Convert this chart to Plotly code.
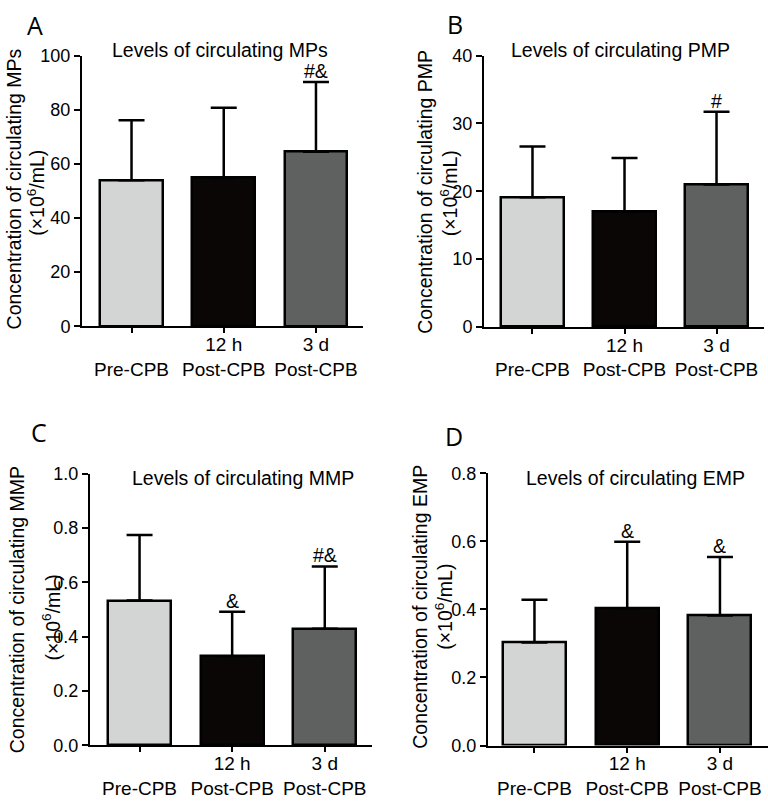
import plotly.graph_objects as go

# ---------------- data ----------------
categories = ["Pre-CPB", "12 h Post-CPB", "3 d Post-CPB"]
tick_text = ["\u00a0<br>Pre-CPB", "12 h<br>Post-CPB", "3 d<br>Post-CPB"]
bar_colors = ["#d3d5d5", "#0a0606", "#5f6161"]

mps_mean = [53.9, 54.9, 64.5]
mps_sd = [22.2, 25.8, 25.7]
mps_marks = ["", "", "#&"]

pmp_mean = [19.1, 17.0, 21.0]
pmp_sd = [7.5, 7.9, 10.7]
pmp_marks = ["", "", "#"]

mmp_mean = [0.533, 0.328, 0.429]
mmp_sd = [0.242, 0.164, 0.230]
mmp_marks = ["", "&", "#&"]

emp_mean = [0.303, 0.403, 0.382]
emp_sd = [0.125, 0.196, 0.172]
emp_marks = ["", "&", "&"]

W, H = 768, 805
FONT = "Liberation Sans, Arial, Helvetica, sans-serif"
TXT = 19.5


def px(x):
    return x / W


def py(y):
    return 1 - y / H


panels = [
    dict(letter="A", mean=mps_mean, sd=mps_sd, marks=mps_marks,
         title="Levels of circulating MPs", ylab="Concentration of circulating MPs",
         xd=(82, 363), yd=(46.7, 324.3), yr=[0, 100], dtick=20, fmt="d",
         xr=[-0.537, 2.51], letter_pos=(35, 15), title_pos=(220, 41),
         yl1=(14, 184), yl2=(36.5, 188)),
    dict(letter="B", mean=pmp_mean, sd=pmp_sd, marks=pmp_marks,
         title="Levels of circulating PMP", ylab="Concentration of circulating PMP",
         xd=(484, 764), yd=(46.7, 325), yr=[0, 40], dtick=10, fmt="d",
         xr=[-0.527, 2.516], letter_pos=(455, 14), title_pos=(620, 41),
         yl1=(425, 186.5), yl2=(449, 188)),
    dict(letter="C", mean=mmp_mean, sd=mmp_sd, marks=mmp_marks,
         title="Levels of circulating MMP", ylab="Concentration of circulating MMP",
         xd=(90, 372), yd=(475.7, 754), yr=[0, 1.0], dtick=0.2, fmt=".1f",
         xr=[-0.535, 2.51], letter_pos=(39, 433), title_pos=(243, 480),
         yl1=(16.5, 615), yl2=(51, 623)),
    dict(letter="D", mean=emp_mean, sd=emp_sd, marks=emp_marks,
         title="Levels of circulating EMP", ylab="Concentration of circulating EMP",
         xd=(488, 768), yd=(475, 754.3), yr=[0, 0.8], dtick=0.2, fmt=".1f",
         xr=[-0.501, 2.518], letter_pos=(454, 437), title_pos=(635, 480),
         yl1=(420, 612), yl2=(444, 612)),
]

fig = go.Figure()
annotations = []
layout = {}
xs = [0, 1, 2]

for i, p in enumerate(panels):
    n = "" if i == 0 else str(i + 1)
    xa, ya = "x" + n, "y" + n
    fig.add_trace(go.Bar(
        x=xs, y=p["mean"], width=0.68, xaxis=xa, yaxis=ya,
        marker=dict(color=bar_colors, line=dict(color="black", width=2.5)),
        error_y=dict(type="data", symmetric=False, array=p["sd"],
                     arrayminus=[0, 0, 0], color="black", thickness=2.5, width=13),
        showlegend=False, hoverinfo="skip",
    ))
    layout["xaxis" + n] = dict(
        domain=[px(p["xd"][0]), px(p["xd"][1])], anchor=ya, range=p["xr"],
        tickvals=xs, ticktext=tick_text, showline=True, linecolor="black",
        linewidth=2, ticks="outside", ticklen=5, tickwidth=2, tickcolor="black",
        showgrid=False, zeroline=False, fixedrange=True, ticklabelstandoff=-5,
        tickfont=dict(family=FONT, size=19, color="black"),
    )
    layout["yaxis" + n] = dict(
        domain=[py(p["yd"][1]), py(p["yd"][0])], anchor=xa, range=p["yr"],
        dtick=p["dtick"], tick0=0, tickformat=p["fmt"], showline=True,
        linecolor="black", linewidth=2, ticks="outside", ticklen=6, tickwidth=2,
        tickcolor="black", showgrid=False, zeroline=False, fixedrange=True,
        tickfont=dict(family=FONT, size=18, color="black"),
    )
    annotations.append(dict(text=p["letter"], xref="paper", yref="paper",
                            x=px(p["letter_pos"][0]), y=py(p["letter_pos"][1]),
                            xanchor="center", yanchor="middle", showarrow=False,
                            font=dict(family="Open Sans, sans-serif", size=25, color="black")))
    annotations.append(dict(text=p["title"], xref="paper", yref="paper",
                            x=px(p["title_pos"][0]), y=py(p["title_pos"][1]),
                            xanchor="center", yanchor="middle", showarrow=False,
                            font=dict(family=FONT, size=TXT, color="black")))
    annotations.append(dict(text=p["ylab"], xref="paper", yref="paper",
                            x=px(p["yl1"][0]), y=py(p["yl1"][1]), textangle=-90,
                            xanchor="center", yanchor="middle", showarrow=False,
                            font=dict(family=FONT, size=TXT, color="black")))
    annotations.append(dict(text="(×10<sup>6</sup>/mL)", xref="paper", yref="paper",
                            x=px(p["yl2"][0]), y=py(p["yl2"][1]), textangle=-90,
                            xanchor="center", yanchor="middle", showarrow=False,
                            font=dict(family=FONT, size=TXT, color="black")))
    for j in range(3):
        if p["marks"][j]:
            annotations.append(dict(text=p["marks"][j], xref=xa, yref=ya,
                                    x=xs[j], y=p["mean"][j] + p["sd"][j],
                                    xanchor="center", yanchor="middle", yshift=11,
                                    showarrow=False,
                                    font=dict(family=FONT, size=TXT, color="black")))

fig.update_layout(
    width=W, height=H, margin=dict(l=0, r=0, t=0, b=0),
    paper_bgcolor="white", plot_bgcolor="white",
    annotations=annotations, bargap=0, **layout,
)

fig.write_html("out.html", config={"displayModeBar": False},
               post_script="document.body.style.margin='0';document.body.style.overflow='hidden';")
